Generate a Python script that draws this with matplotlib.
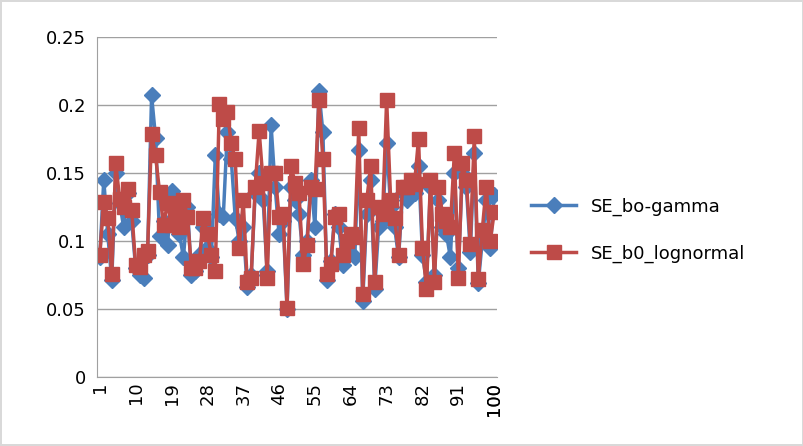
import matplotlib.pyplot as plt

idx = list(range(1, 101))
lognormal = [0.090, 0.129, 0.117, 0.076, 0.157, 0.131, 0.125, 0.138, 0.123, 0.082,
             0.081, 0.090, 0.093, 0.179, 0.163, 0.136, 0.112, 0.128, 0.112, 0.120,
             0.110, 0.130, 0.118, 0.080, 0.080, 0.085, 0.117, 0.105, 0.090, 0.078,
             0.201, 0.190, 0.195, 0.172, 0.160, 0.095, 0.130, 0.070, 0.073, 0.140,
             0.181, 0.143, 0.073, 0.150, 0.150, 0.118, 0.120, 0.051, 0.155, 0.143,
             0.135, 0.083, 0.097, 0.140, 0.138, 0.204, 0.160, 0.076, 0.083, 0.118,
             0.120, 0.090, 0.100, 0.105, 0.103, 0.183, 0.061, 0.130, 0.155, 0.070,
             0.125, 0.120, 0.204, 0.130, 0.117, 0.090, 0.140, 0.140, 0.145, 0.142,
             0.175, 0.095, 0.065, 0.145, 0.070, 0.140, 0.120, 0.115, 0.110, 0.165,
             0.073, 0.157, 0.145, 0.098, 0.177, 0.072, 0.108, 0.140, 0.100, 0.121]
gamma = [0.088, 0.145, 0.105, 0.071, 0.150, 0.128, 0.110, 0.135, 0.115, 0.080,
         0.075, 0.073, 0.090, 0.207, 0.176, 0.104, 0.115, 0.097, 0.137, 0.132,
         0.105, 0.088, 0.125, 0.075, 0.078, 0.090, 0.110, 0.095, 0.088, 0.163,
         0.120, 0.118, 0.180, 0.160, 0.117, 0.100, 0.110, 0.066, 0.075, 0.135,
         0.150, 0.130, 0.078, 0.185, 0.140, 0.105, 0.115, 0.050, 0.140, 0.130,
         0.120, 0.090, 0.100, 0.145, 0.110, 0.210, 0.180, 0.071, 0.085, 0.120,
         0.110, 0.082, 0.095, 0.100, 0.088, 0.167, 0.056, 0.120, 0.145, 0.065,
         0.110, 0.115, 0.172, 0.125, 0.110, 0.088, 0.135, 0.130, 0.140, 0.135,
         0.155, 0.090, 0.070, 0.140, 0.075, 0.130, 0.110, 0.105, 0.088, 0.150,
         0.080, 0.150, 0.140, 0.092, 0.165, 0.069, 0.100, 0.130, 0.095, 0.134]

fig = plt.figure(figsize=(8.04, 4.46), dpi=100)
fig.patch.set_edgecolor('#d9d9d9')
fig.patch.set_linewidth(1.5)
ax = fig.add_axes([97/804, 1 - 377/446, 400/804, 340/446])

ax.plot(idx, gamma, color='#4a7ebb', marker='D', markersize=8, linewidth=2.5, label='SE_bo-gamma')
ax.plot(idx, lognormal, color='#be4b48', marker='s', markersize=10, linewidth=2.5, label='SE_b0_lognormal')

ax.set_xlim(0.3, 100.7)
ax.set_ylim(0, 0.25)
ax.set_yticks([0, 0.05, 0.1, 0.15, 0.2, 0.25])
ax.set_yticklabels(['0', '0.05', '0.1', '0.15', '0.2', '0.25'])
ax.set_xticks(list(range(1, 101, 9)) + [100])
ax.tick_params(axis='x', rotation=90, length=0, labelsize=13)
ax.tick_params(axis='y', length=0, labelsize=13, pad=8)
ax.grid(axis='y', color='#a0a0a0', linewidth=1)
ax.set_axisbelow(True)
for s in ['top', 'right']:
    ax.spines[s].set_visible(False)
ax.spines['left'].set_color('#a0a0a0')
ax.spines['bottom'].set_color('#a0a0a0')

fig.legend(loc='center left', bbox_to_anchor=(515/804, 1 - 230/446), frameon=False,
           fontsize=13, labelspacing=1.6, handlelength=2.5)

fig.savefig('out.png')
